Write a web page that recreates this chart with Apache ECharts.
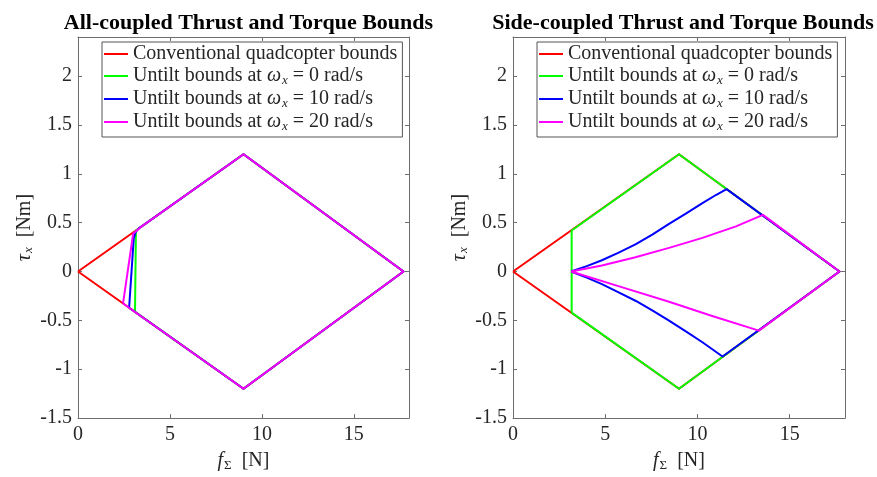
<!DOCTYPE html>
<html>
<head>
<meta charset="utf-8">
<script src="https://cdn.jsdelivr.net/npm/echarts@6/dist/echarts.min.js"></script>
<style>
  html, body { margin: 0; padding: 0; background: #ffffff; }
  #chart { width: 877px; height: 477px; }
</style>
</head>
<body>
<div id="chart"></div>
<script>
// ---- Axis ranges / tick settings ----
const xRange = [0, 18];
const xStep = 5;
const yRange = [-1.5, 2.4];
const yStep = 0.5;

// ---- Titles & legend names ----
const titles = ['All-coupled Thrust and Torque Bounds', 'Side-coupled Thrust and Torque Bounds'];
const seriesNames = [
  'Conventional quadcopter bounds',
  'Untilt bounds at ω_x = 0 rad/s',
  'Untilt bounds at ω_x = 10 rad/s',
  'Untilt bounds at ω_x = 20 rad/s'
];
const seriesColors = ['#ff0000', '#00ff00', '#0000ff', '#ff00ff'];

// ---- Left panel: all-coupled (f_Σ [N], τ_x [Nm]) ----
const allConv = [[0, 0], [9, 1.2], [17.7, 0], [9, -1.2], [0, 0]];
const allW0 = [[3.1, -0.413], [3.15, 0.42], [9, 1.2], [17.7, 0], [9, -1.2], [3.1, -0.413]];
const allW10 = [[2.78, -0.371], [3.03, 0.335], [3.12, 0.4], [3.31, 0.441], [9, 1.2], [17.7, 0], [9, -1.2], [2.78, -0.371]];
const allW20 = [[2.45, -0.327], [3.0, 0.387], [3.4, 0.453], [9, 1.2], [17.7, 0], [9, -1.2], [2.45, -0.327]];

// ---- Right panel: side-coupled ----
const sideConv = [[0, 0], [9, 1.2], [17.7, 0], [9, -1.2], [0, 0]];
const sideW0 = [[3.18, -0.42], [3.18, 0.42], [9, 1.2], [17.7, 0], [9, -1.2], [3.18, -0.42]];
const sideW10 = [[3.15, 0], [4.0, 0.055], [4.82, 0.115], [5.7, 0.19], [6.64, 0.278], [7.55, 0.377], [8.46, 0.487],
                 [9.37, 0.592], [10.27, 0.70], [11.0, 0.783], [11.58, 0.843], [17.7, 0],
                 [11.36, -0.87], [10.27, -0.724], [9.37, -0.612], [8.46, -0.503], [7.55, -0.398], [6.64, -0.299],
                 [5.7, -0.21], [4.82, -0.129], [4.0, -0.062], [3.15, 0]];
const sideW20 = [[3.15, 0], [4.82, 0.061], [6.64, 0.146], [8.46, 0.242], [10.27, 0.344], [12.09, 0.462], [13.55, 0.58], [17.7, 0],
                 [13.33, -0.605], [10.8, -0.455], [8.46, -0.31], [5.8, -0.155], [3.15, 0]];

const panelData = [[allConv, allW0, allW10, allW20], [sideConv, sideW0, sideW10, sideW20]];

// ---- styling ----
const FONT = "'Liberation Serif', 'DejaVu Serif', serif";
const TXT = '#262626';
const AX = '#6e6e6e';
const grids = [
  { left: 78, top: 37, width: 331, height: 382 },
  { left: 513, top: 37, width: 332, height: 382 }
];
const richText = {
  n: { fontFamily: FONT, fontSize: 20, color: TXT, lineHeight: 21 },
  i: { fontFamily: FONT, fontSize: 20, color: TXT, fontStyle: 'italic', lineHeight: 21 },
  s: { fontFamily: FONT, fontSize: 13, color: TXT, fontStyle: 'italic', lineHeight: 21, padding: [9, 0, 0, 1] },
  sn: { fontFamily: FONT, fontSize: 13, color: TXT, lineHeight: 21, padding: [9, 0, 0, 1] }
};

function legendFmt(name) {
  const m = name.match(/^(.*)ω_x(.*)$/);
  if (!m) return '{n|' + name + '}';
  return '{n|' + m[1] + '}{i|ω}{s|x}{n|' + m[2] + '}';
}

const xAxes = [], yAxes = [], series = [], legends = [], titleOpts = [];
grids.forEach((g, gi) => {
  const base = {
    gridIndex: gi, type: 'value', min: xRange[0], max: xRange[1], interval: xStep,
    axisLine: { show: true, onZero: false, lineStyle: { color: AX, width: 1 } },
    axisTick: { show: true, inside: true, length: 4, lineStyle: { color: AX } },
    splitLine: { show: false }
  };
  xAxes.push(Object.assign({}, base, {
    position: 'bottom',
    axisLabel: { show: true, fontFamily: FONT, fontSize: 20, color: TXT, margin: 7, showMaxLabel: false },
    name: '{i|f}{sn|Σ}{n|  [N]}', nameLocation: 'middle', nameGap: 30,
    nameTextStyle: { rich: richText }
  }));
  xAxes.push(Object.assign({}, base, { position: 'top', axisLabel: { show: false } }));
  const ybase = {
    gridIndex: gi, type: 'value', min: yRange[0], max: yRange[1], interval: yStep,
    axisLine: { show: true, onZero: false, lineStyle: { color: AX, width: 1 } },
    axisTick: { show: true, inside: true, length: 4, lineStyle: { color: AX } },
    splitLine: { show: false }
  };
  yAxes.push(Object.assign({}, ybase, {
    position: 'left',
    axisLabel: { show: true, fontFamily: FONT, fontSize: 20, color: TXT, margin: 6, showMaxLabel: false },
    name: '{i|τ}{s|x}{n|  [Nm]}', nameLocation: 'middle', nameGap: 43, nameRotate: 90,
    nameTextStyle: { rich: richText }
  }));
  yAxes.push(Object.assign({}, ybase, { position: 'right', axisLabel: { show: false } }));

  panelData[gi].forEach((d, si) => {
    series.push({
      name: seriesNames[si], type: 'line', xAxisIndex: gi * 2, yAxisIndex: gi * 2,
      data: d, showSymbol: false, symbol: 'none', color: seriesColors[si],
      lineStyle: { width: 2, color: seriesColors[si], join: 'round' }, z: 2 + si, silent: true
    });
  });

  legends.push({
    data: seriesNames, orient: 'vertical', left: g.left + 24, top: 42,
    icon: 'rect', itemWidth: 24, itemHeight: 2, itemGap: 1,
    padding: [2, 5, 4, 2], borderColor: '#555', borderWidth: 1, backgroundColor: '#fff',
    formatter: legendFmt, textStyle: { rich: richText }, selectedMode: false
  });

  titleOpts.push({
    text: titles[gi], left: g.left + g.width / 2 - (gi === 1 ? 1 : 0), top: 7, textAlign: 'center',
    textStyle: { fontFamily: FONT, fontSize: 22, fontWeight: 'bold', color: '#000' }
  });
});

const chart = echarts.init(document.getElementById('chart'), null, { renderer: 'canvas' });
chart.setOption({
  animation: false,
  backgroundColor: '#ffffff',
  title: titleOpts,
  grid: grids,
  xAxis: xAxes,
  yAxis: yAxes,
  legend: legends,
  series: series
});
</script>
</body>
</html>
